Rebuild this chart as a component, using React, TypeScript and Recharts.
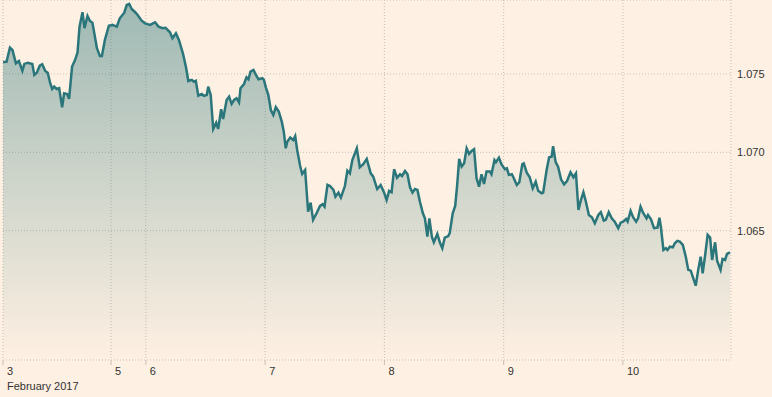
import { AreaChart, Area, XAxis, YAxis, CartesianGrid } from 'recharts';

// trading hours since Fri 3 Feb 00:00 (weekend removed)
const hours = [
  0, 0.7, 1.4, 1.9, 2.6, 3.2, 3.9, 4.3, 5.0, 5.9,
  6.3, 6.8, 7.4, 7.9, 8.5, 9.0, 9.5, 9.9, 10.3, 10.8,
  11.3, 11.9, 12.3, 12.9, 13.3, 13.9, 14.5, 15.0, 15.4, 16.0,
  16.4, 17.0, 17.5, 18.0, 18.9, 19.5, 19.9, 20.5, 21.3, 22.0,
  22.9, 23.5, 24.4, 24.9, 25.4, 25.9, 26.6, 27.1, 27.9, 28.6,
  29.6, 30.6, 31.3, 32.1, 32.7, 33.6, 34.1, 34.8, 35.4, 36.2,
  36.8, 37.3, 38.0, 38.4, 38.8, 39.3, 40.0, 40.4, 41.0, 41.3,
  41.8, 42.3, 42.9, 43.3, 43.9, 44.3, 45.0, 45.5, 46.0, 46.5,
  47.0, 47.5, 47.8, 48.5, 49.0, 49.4, 49.8, 50.4, 50.9, 51.4,
  52.2, 52.5, 52.9, 53.4, 53.9, 54.4, 54.9, 55.5, 56.1, 56.5,
  56.9, 57.2, 57.8, 58.4, 58.8, 59.2, 59.8, 60.2, 60.8, 61.4,
  61.9, 62.4, 63.1, 63.8, 64.3, 64.7, 65.3, 65.8, 66.5, 66.9,
  67.5, 68.0, 68.8, 69.3, 69.8, 70.3, 71.2, 71.8, 72.5, 73.2,
  74.0, 74.5, 75.3, 76.0, 76.7, 77.2, 77.7, 78.2, 78.7, 79.3,
  79.9, 80.3, 80.9, 81.4, 81.9, 82.4, 82.9, 83.4, 83.9, 84.5,
  84.9, 85.4, 85.8, 86.3, 86.7, 87.4, 87.9, 88.4, 88.9, 89.6,
  89.9, 90.5, 91.0, 91.4, 91.8, 92.3, 92.8, 93.3, 93.8, 94.3,
  94.8, 95.3, 95.8, 96.3, 96.8, 97.3, 98.0, 98.3, 98.9, 99.2,
  99.8, 100.3, 101.0, 101.4, 101.8, 102.4, 102.8, 103.4, 103.9, 104.5,
  104.8, 105.4, 106.0, 106.6, 107.2, 107.7, 108.4, 108.7, 109.4, 109.9,
  110.4, 110.7, 111.2, 111.7, 112.3, 112.9, 113.5, 114.2, 114.8, 115.3,
  115.8, 116.3, 116.8, 117.3, 117.9, 118.5, 119.1, 119.8, 120.3, 120.9,
  121.3, 121.9, 122.5, 123.1, 123.8, 124.3, 124.8, 125.4, 125.7, 126.3,
  126.8, 127.4, 127.8, 128.3, 128.8, 129.5, 129.8, 130.4, 131.0, 131.7,
  132.1, 132.4, 132.9, 133.4, 133.7, 134.2, 134.8, 135.2, 135.7, 136.2,
  136.8, 137.4, 137.9, 138.4, 138.8, 139.4, 139.9, 140.4, 140.8, 141.3,
  141.8, 142.3, 142.7, 143.3, 143.7, 144.4, 144.8, 145.3, 145.7, 146.3,
];

const eurUsd = [
  1.07577, 1.07578, 1.07668, 1.07653, 1.07568, 1.07583, 1.07521, 1.07564, 1.07572, 1.07564,
  1.07494, 1.07508, 1.07553, 1.07562, 1.07519, 1.07508, 1.07441, 1.07404, 1.07419, 1.07404,
  1.07409, 1.07288, 1.07377, 1.07372, 1.07341, 1.07547, 1.07589, 1.07638, 1.07802, 1.07894,
  1.07792, 1.0787, 1.07838, 1.07827, 1.07664, 1.07615, 1.07615, 1.07717, 1.07808, 1.07813,
  1.07802, 1.07855, 1.07891, 1.0794, 1.07947, 1.07915, 1.07894, 1.07876, 1.0784, 1.07823,
  1.07813, 1.0783, 1.07802, 1.07792, 1.07795, 1.07766, 1.07728, 1.0776, 1.07717, 1.07632,
  1.07547, 1.07455, 1.07462, 1.07451, 1.07457, 1.07362, 1.07372, 1.0736, 1.07366, 1.07419,
  1.07366, 1.07149, 1.07189, 1.07149, 1.07275, 1.07213, 1.07334, 1.07355, 1.07309, 1.07334,
  1.07345, 1.07319, 1.07409, 1.07436, 1.07479, 1.07466, 1.07515, 1.07526, 1.07494, 1.07466,
  1.07473, 1.07462, 1.07415, 1.07366, 1.0727, 1.07238, 1.07288, 1.0726, 1.07196, 1.07132,
  1.07026, 1.07068, 1.07094, 1.07079, 1.07104, 1.07015, 1.06913, 1.06862, 1.06888, 1.06621,
  1.06679, 1.06569, 1.06611, 1.06658, 1.06669, 1.06653, 1.06792, 1.06785, 1.0676, 1.06717,
  1.06743, 1.06711, 1.06785, 1.06883, 1.06866, 1.06951, 1.07026, 1.06905, 1.06924, 1.06958,
  1.06866, 1.06845, 1.06766, 1.06792, 1.06743, 1.06696, 1.06754, 1.06745, 1.06892, 1.06838,
  1.0686, 1.06849, 1.06881, 1.0686, 1.06777, 1.06743, 1.06766, 1.0676, 1.06685, 1.06611,
  1.06579, 1.06462, 1.06579, 1.06462, 1.06426, 1.06479, 1.06426, 1.06388, 1.06456, 1.06466,
  1.06484, 1.06611, 1.06658, 1.06792, 1.06958, 1.06909, 1.0693, 1.07026, 1.0699, 1.07009,
  1.0702, 1.06835, 1.06781, 1.0686, 1.06798, 1.06877, 1.06877, 1.0686, 1.06951, 1.06937,
  1.06966, 1.06924, 1.06892, 1.06898, 1.06856, 1.0686, 1.06835, 1.06792, 1.06809, 1.06924,
  1.0693, 1.0687, 1.06841, 1.06771, 1.06813, 1.06755, 1.06739, 1.06743, 1.06888, 1.06969,
  1.06972, 1.07039, 1.06939, 1.06909, 1.06828, 1.06796, 1.06817, 1.06873, 1.06841, 1.06866,
  1.06632, 1.06696, 1.06745, 1.06685, 1.066, 1.06586, 1.06547, 1.066, 1.06618, 1.06564,
  1.06569, 1.06618, 1.06579, 1.06558, 1.06516, 1.06551, 1.06558, 1.06575, 1.06558, 1.06626,
  1.06586, 1.06558, 1.06579, 1.06653, 1.06615, 1.06579, 1.066, 1.06573, 1.06516, 1.0652,
  1.06583, 1.06522, 1.06377, 1.06388, 1.06377, 1.06398, 1.06394, 1.0642, 1.06435, 1.0643,
  1.06409, 1.06334, 1.0625, 1.06245, 1.06207, 1.06149, 1.0625, 1.06334, 1.06228, 1.06345,
  1.06473, 1.06456, 1.06313, 1.06426, 1.06309, 1.0625, 1.0632, 1.06313, 1.06352, 1.06362,
];

const dayTicks = [0, 21.75, 28.75, 52.75, 76.75, 100.75, 124.75];
const dayLabels = ['3', '5', '6', '7', '8', '9', '10'];
const monthLabel = 'February 2017';
const rateTicks = [1.065, 1.07, 1.075];

const data = hours.map((h, i) => ({ h, rate: eurUsd[i] }));

const BG = '#fef0e2';
const LINE = '#2a767b';
const GRID = '#c9bfb4';

function DayTick(props: any) {
  const { x, y, payload } = props;
  const label = dayLabels[dayTicks.indexOf(payload.value)];
  return (
    <g>
      <text x={x + 4} y={y} dy="0.71em" textAnchor="start" fontSize={11} fill="#333">
        {label}
      </text>
      {payload.value === dayTicks[0] && (
        <text x={x + 4} y={y + 15} dy="0.71em" textAnchor="start" fontSize={11} fill="#333">
          {monthLabel}
        </text>
      )}
    </g>
  );
}

export default function App() {
  return (
    <div style={{ width: 772, height: 397, background: BG, fontFamily: '"Liberation Sans", Arial, sans-serif' }}>
      <style>{'body{margin:0}'}</style>
      <AreaChart width={772} height={397} data={data} margin={{ top: 0, right: 0, left: 3, bottom: 0 }}>
        <defs>
          <linearGradient id="fillGrad" x1="0" y1="0" x2="0" y2="1">
            <stop offset="0%" stopColor={LINE} stopOpacity={0.45} />
            <stop offset="100%" stopColor={LINE} stopOpacity={0} />
          </linearGradient>
        </defs>
        <CartesianGrid stroke={GRID} strokeDasharray="1 2" />
        <XAxis
          dataKey="h"
          type="number"
          domain={[0, 146.5]}
          allowDataOverflow
          ticks={dayTicks}
          interval={0}
          height={37}
          axisLine={false}
          tickLine={{ stroke: GRID }}
          tickSize={5}
          tickMargin={2}
          tick={<DayTick />}
        />
        <YAxis
          orientation="right"
          type="number"
          domain={[1.05675, 1.07972]}
          allowDataOverflow
          ticks={rateTicks}
          width={41}
          axisLine={false}
          tickLine={false}
          tickSize={6}
          tickMargin={0}
          tickFormatter={(v: number) => v.toFixed(3)}
          tick={{ fontSize: 11, fill: '#333' }}
        />
        <Area
          type="linear"
          dataKey="rate"
          stroke={LINE}
          strokeWidth={2.5}
          fill="url(#fillGrad)"
          fillOpacity={1}
          dot={false}
          activeDot={false}
          isAnimationActive={false}
        />
      </AreaChart>
    </div>
  );
}
